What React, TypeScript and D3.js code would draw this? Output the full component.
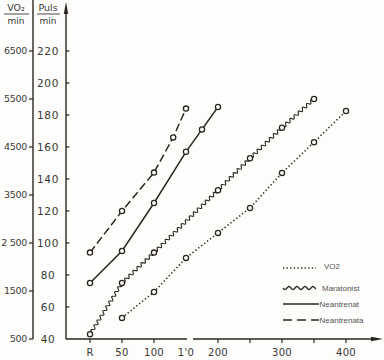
import { useEffect, useRef } from 'react';
import { line, scaleLinear, select } from 'd3';

// x axis (load, W) — "R" is rest
const xTicks = [0, 50, 100, 150, 200, 300, 400];
const xTickLabels = ['R', '50', '100', "1'0", '200', '300', '400'];
const xMinorTicks = [250, 350];

const pulseTicks = [60, 80, 100, 120, 140, 160, 180, 200, 220];
const pulseBottom = 40;
const vo2Ticks = [500, 1500, 2500, 3500, 4500, 5500, 6500];
const vo2TickLabels = ['500', '1500', '2 500', '3500', '4500', '5500', '6500'];

const neantrenataLoad = [0, 50, 100, 130, 150];
const neantrenataPuls = [94, 120, 144, 166, 184];

const neantrenatLoad = [0, 50, 100, 150, 175, 200];
const neantrenatPuls = [75, 95, 125, 157, 171, 185];

const maratonistLoad = [0, 50, 100, 200, 250, 300, 350];
const maratonistPuls = [43, 75, 94, 133, 153, 172, 190];

const vo2Load = [50, 100, 150, 200, 250, 300, 350, 400];
const vo2Values = [940, 1480, 2190, 2710, 3230, 3960, 4600, 5250];

const legendItems = ['VO2', 'Maratonist', 'Neantrenat', 'Neantrenata'];

const W = 384;
const H = 360;
const ink = '#2b2620';
const textCol = '#3a3835';

// wavy polyline: sine offset perpendicular to each segment
function wavyPath(pts: [number, number][], amp = 1.6, wl = 4.6) {
  let d = '';
  let s = 0;
  for (let i = 0; i < pts.length - 1; i++) {
    const [x0, y0] = pts[i];
    const [x1, y1] = pts[i + 1];
    const len = Math.hypot(x1 - x0, y1 - y0);
    const ux = (x1 - x0) / len;
    const uy = (y1 - y0) / len;
    const steps = Math.ceil(len / 0.6);
    for (let k = 0; k <= steps; k++) {
      const t = (k / steps) * len;
      const off = amp * Math.sin((2 * Math.PI * (s + t)) / wl);
      const px = x0 + ux * t - uy * off;
      const py = y0 + uy * t + ux * off;
      d += (d ? 'L' : 'M') + px.toFixed(2) + ',' + py.toFixed(2);
    }
    s += len;
  }
  return d;
}

export default function App() {
  const svgRef = useRef<SVGSVGElement>(null);

  useEffect(() => {
    const svg = select(svgRef.current);
    svg.selectAll('*').remove();

    const x = scaleLinear().domain([0, 400]).range([90, 346]);
    const yP = scaleLinear().domain([40, 220]).range([339, 51]);
    const yV = scaleLinear().domain([500, 6500]).range([339, 51]);
    const baseY = yP(pulseBottom);

    svg.append('rect').attr('width', W).attr('height', H).attr('fill', '#fdfdfb');

    const font = 'DejaVu Sans, sans-serif';

    // VO2 axis
    svg.append('line').attr('x1', 33).attr('x2', 33).attr('y1', 0).attr('y2', baseY)
      .attr('stroke', ink).attr('stroke-width', 1.4);
    vo2Ticks.forEach((v, i) => {
      svg.append('line').attr('x1', 29).attr('x2', 33).attr('y1', yV(v)).attr('y2', yV(v))
        .attr('stroke', ink).attr('stroke-width', 1.2);
      svg.append('text').attr('x', 27).attr('y', yV(v)).attr('dy', '0.35em')
        .attr('text-anchor', 'end').attr('font-family', font).attr('font-size', 9.5)
        .attr('fill', textCol).attr('letter-spacing', -0.3).text(vo2TickLabels[i]);
    });

    // pulse axis with arrow
    svg.append('line').attr('x1', 66).attr('x2', 66).attr('y1', 10).attr('y2', baseY)
      .attr('stroke', ink).attr('stroke-width', 1.4);
    svg.append('path').attr('d', 'M66,2 L68.2,14 L63.8,14 Z').attr('fill', ink);
    pulseTicks.forEach((v) => {
      svg.append('line').attr('x1', 66).attr('x2', 69.5).attr('y1', yP(v)).attr('y2', yP(v))
        .attr('stroke', ink).attr('stroke-width', 1.2);
    });
    [pulseBottom, ...pulseTicks].forEach((v) => {
      svg.append('text').attr('x', 48).attr('y', yP(v)).attr('dy', '0.35em')
        .attr('text-anchor', 'middle').attr('font-family', font).attr('font-size', 10.5)
        .attr('fill', textCol).attr('letter-spacing', 0.6).text(String(v));
    });

    // header labels
    const header = (cx: number, top: string, x1: number, x2: number) => {
      svg.append('text').attr('x', cx).attr('y', 11).attr('text-anchor', 'middle')
        .attr('font-family', font).attr('font-size', 9.5).attr('fill', textCol).text(top);
      svg.append('line').attr('x1', x1).attr('x2', x2).attr('y1', 14).attr('y2', 14)
        .attr('stroke', textCol).attr('stroke-width', 0.9);
      svg.append('text').attr('x', cx).attr('y', 24).attr('text-anchor', 'middle')
        .attr('font-family', font).attr('font-size', 9).attr('fill', textCol).text('min');
    };
    header(16, 'VO₂', 4, 29);
    header(48, 'Puls', 37, 60);

    // x axis with a break and arrow
    svg.append('line').attr('x1', 66).attr('x2', 187).attr('y1', baseY).attr('y2', baseY)
      .attr('stroke', ink).attr('stroke-width', 1.4);
    svg.append('line').attr('x1', 193).attr('x2', 376).attr('y1', baseY).attr('y2', baseY)
      .attr('stroke', ink).attr('stroke-width', 1.4);
    svg.append('path').attr('d', `M383,${baseY} L371,${baseY - 2.2} L371,${baseY + 2.2} Z`).attr('fill', ink);
    [...xTicks, ...xMinorTicks].forEach((v) => {
      if (v === 150) return;
      svg.append('line').attr('x1', x(v)).attr('x2', x(v)).attr('y1', baseY).attr('y2', baseY + 4)
        .attr('stroke', ink).attr('stroke-width', 1.2);
    });
    xTicks.forEach((v, i) => {
      svg.append('text').attr('x', x(v)).attr('y', 356).attr('text-anchor', 'middle')
        .attr('font-family', font).attr('font-size', 10).attr('fill', textCol)
        .attr('letter-spacing', 0.3).text(xTickLabels[i]);
    });

    const lineGen = line<[number, number]>().x((d) => d[0]).y((d) => d[1]);

    const series = [
      { pts: vo2Load.map((l, i) => [x(l), yV(vo2Values[i])] as [number, number]), kind: 'dot' },
      { pts: maratonistLoad.map((l, i) => [x(l), yP(maratonistPuls[i])] as [number, number]), kind: 'wave' },
      { pts: neantrenatLoad.map((l, i) => [x(l), yP(neantrenatPuls[i])] as [number, number]), kind: 'solid' },
      { pts: neantrenataLoad.map((l, i) => [x(l), yP(neantrenataPuls[i])] as [number, number]), kind: 'dash' },
    ];

    series.forEach((s) => {
      const p = svg.append('path').attr('fill', 'none').attr('stroke', ink);
      if (s.kind === 'wave') {
        p.attr('d', wavyPath(s.pts, 1.5, 5.6)).attr('stroke-width', 1.1);
      } else {
        p.attr('d', lineGen(s.pts));
        if (s.kind === 'dot') p.attr('stroke-width', 1.6).attr('stroke-dasharray', '1.3,2.4');
        if (s.kind === 'solid') p.attr('stroke-width', 1.5);
        if (s.kind === 'dash') p.attr('stroke-width', 1.5).attr('stroke-dasharray', '8,3.5');
      }
      svg.append('g').selectAll('circle').data(s.pts).join('circle')
        .attr('cx', (d) => d[0]).attr('cy', (d) => d[1]).attr('r', 2.6)
        .attr('fill', '#fdfdfb').attr('stroke', ink).attr('stroke-width', 1.3);
    });

    // legend
    const legY = [268, 288, 304, 320];
    legendItems.forEach((name, i) => {
      const y = legY[i];
      const kind = series[i].kind;
      const x1 = 283;
      const x2 = kind === 'dot' || kind === 'wave' ? 316 : 319;
      if (kind === 'wave') {
        svg.append('path').attr('d', wavyPath([[x1, y], [x2, y]], 1.5, 8))
          .attr('fill', 'none').attr('stroke', ink).attr('stroke-width', 1.3);
      } else {
        const l = svg.append('line').attr('x1', x1).attr('x2', x2).attr('y1', y).attr('y2', y)
          .attr('stroke', ink).attr('stroke-width', kind === 'dot' ? 1.5 : 1.4);
        if (kind === 'dot') l.attr('stroke-dasharray', '1.3,2.3');
        if (kind === 'dash') l.attr('stroke-dasharray', '9,5');
      }
      svg.append('text').attr('x', kind === 'dot' ? 324 : kind === 'wave' ? 322 : 319.5)
        .attr('y', y + (kind === 'dot' ? -2 : 0)).attr('dy', '0.35em')
        .attr('font-family', 'Liberation Sans, Arial, sans-serif').attr('font-size', 8)
        .attr('fill', '#555').text(name);
    });
  }, []);

  return (
    <svg
      ref={svgRef}
      width={W}
      height={H}
      style={{ position: 'absolute', left: 0, top: 0 }}
    />
  );
}
